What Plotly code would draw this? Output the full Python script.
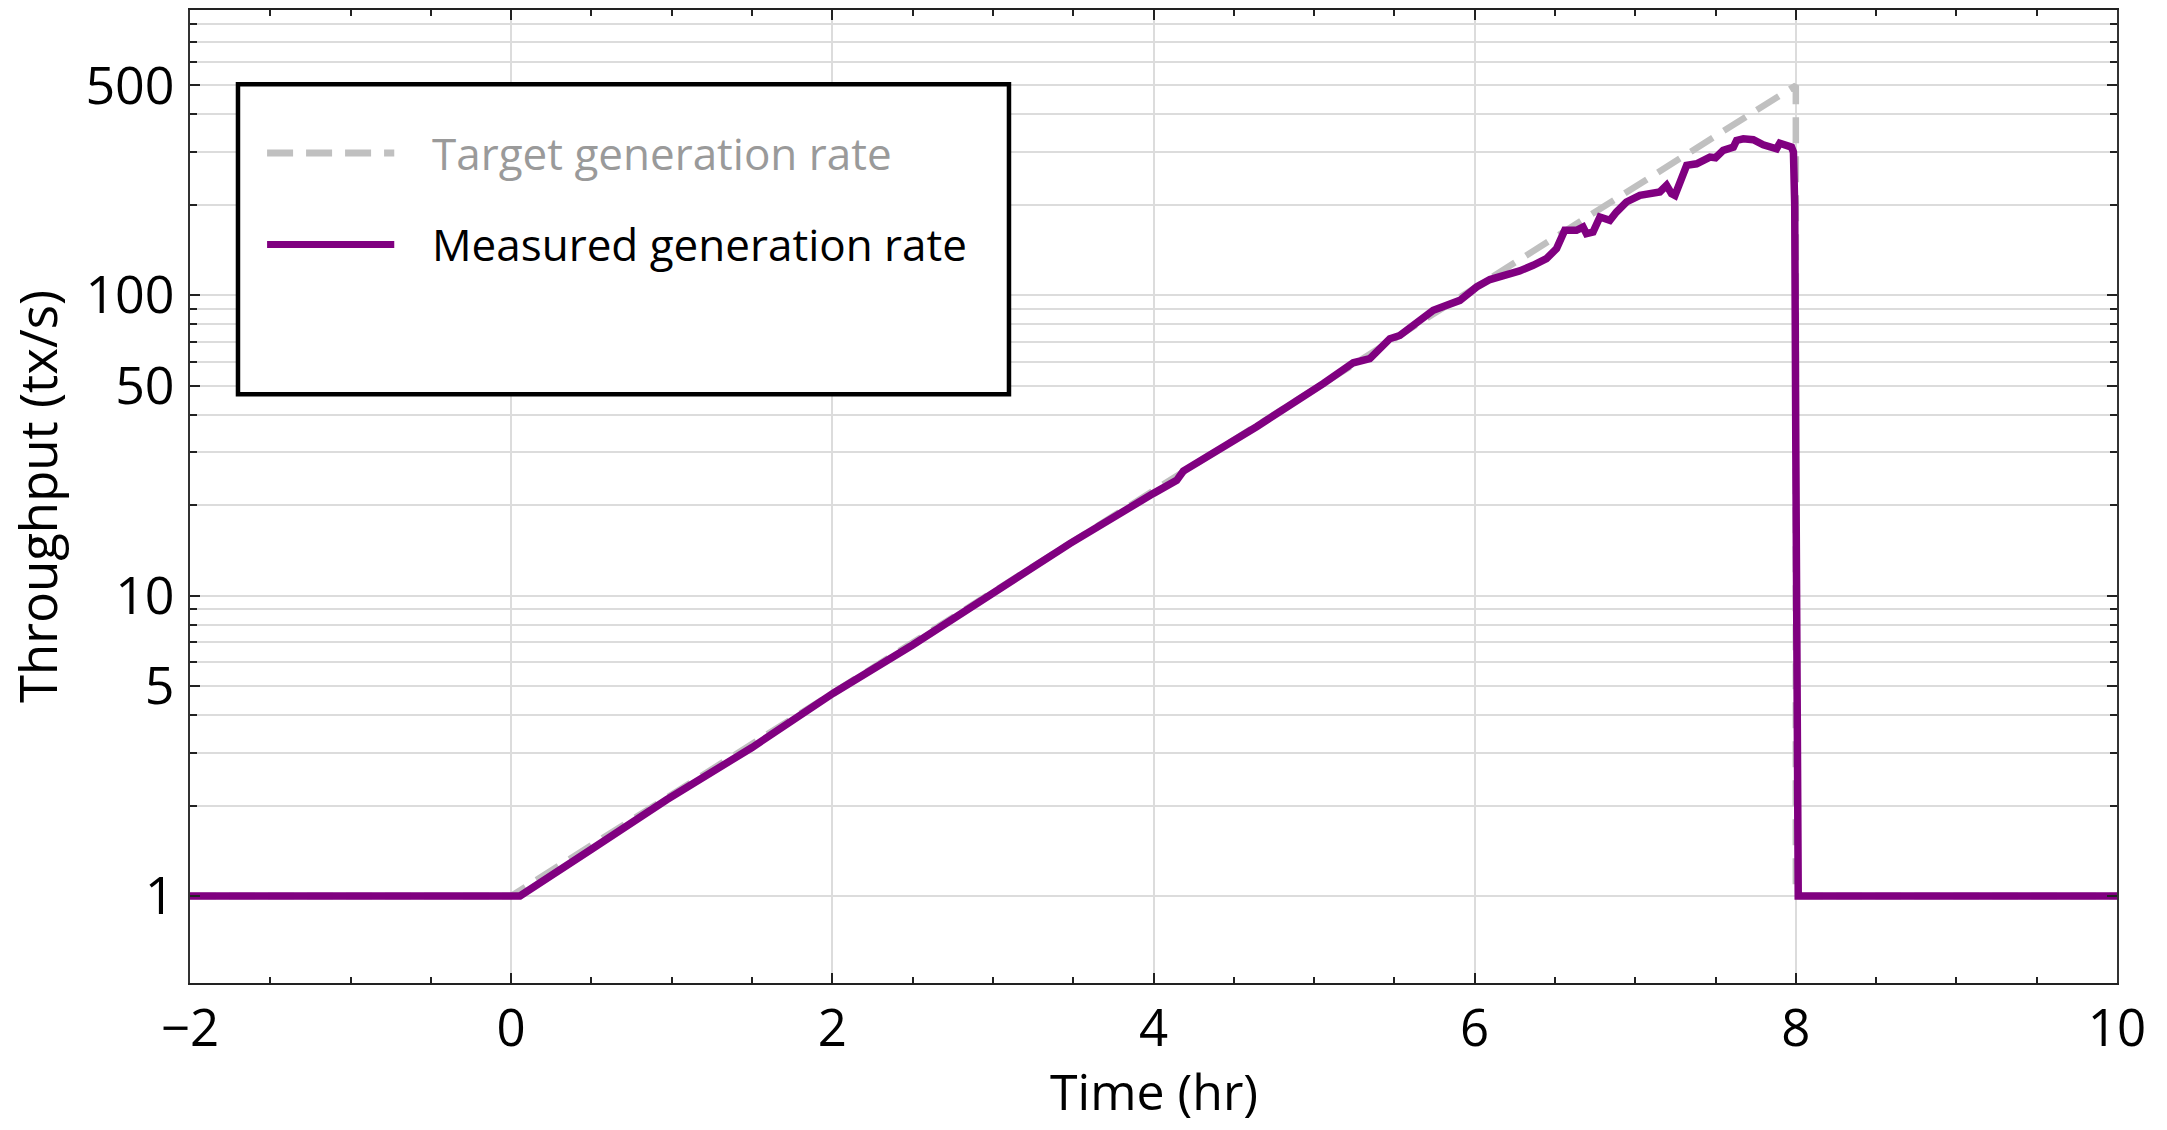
import plotly.graph_objects as go

# ---- data ----
target_time = [-2, 0, 8, 8, 10]
target_rate = [1, 1, 500, 1, 1]

measured_time = [-2, 0.055, 0.5, 0.968, 1.5, 2.006, 2.5, 2.981, 3.479, 4.0, 4.144, 4.186,
                 4.434, 4.642, 5.057, 5.244, 5.347, 5.472, 5.534, 5.617, 5.742, 5.908,
                 6.012, 6.095, 6.198, 6.28, 6.364, 6.447, 6.51, 6.561, 6.634, 6.675,
                 6.696, 6.737, 6.78, 6.842, 6.883, 6.945, 7.029, 7.153, 7.195, 7.226,
                 7.247, 7.32, 7.382, 7.424, 7.465, 7.5, 7.548, 7.611, 7.631, 7.673,
                 7.735, 7.797, 7.859, 7.88, 7.9, 7.942, 7.973, 7.985, 7.993, 8.0,
                 8.01, 8.015, 10]
measured_rate = [1, 1, 1.43, 2.09, 3.12, 4.73, 6.85, 10.04, 14.9, 21.9, 24.2, 26.0,
                 31.3, 36.5, 50.8, 59.6, 61.5, 71.7, 73.5, 79.5, 89.1, 96.2,
                 106.6, 112.8, 116.6, 120.5, 125.9, 132.5, 143, 164.6, 164.6, 168.7,
                 160.4, 162.3, 182.2, 177.7, 189.4, 204.5, 215.3, 220.8, 232.5, 217.9,
                 215, 270.8, 274, 281.3, 288.6, 287, 303.7, 311.5, 328, 332,
                 329.6, 317, 313, 307.6, 321, 313, 311.5, 300, 200, 30,
                 3, 1, 1]

x_tick_vals = [-2, 0, 2, 4, 6, 8, 10]
x_tick_text = ["\u22122", "0", "2", "4", "6", "8", "10"]
y_tick_vals = [1, 5, 10, 50, 100, 500]
y_tick_text = ["1", "5", "10", "50", "100", "500"]
y_minor_vals = [2, 3, 4, 6, 7, 8, 9, 20, 30, 40, 60, 70, 80, 90,
                200, 300, 400, 600, 700, 800]

series_names = ["Target generation rate", "Measured generation rate"]
x_title = "Time (hr)"
y_title = "Throughput (tx/s)"

FONT = "Open Sans"
PURPLE = "#800080"
GRAY = "#c0c0c0"
GRID = "#dcdcdc"

fig = go.Figure()
fig.add_trace(go.Scatter(x=target_time, y=target_rate, mode="lines",
                         name=series_names[0],
                         line=dict(color=GRAY, width=6.5, dash="26px,13px")))
fig.add_trace(go.Scatter(x=measured_time, y=measured_rate, mode="lines",
                         name=series_names[1],
                         line=dict(color=PURPLE, width=7.5)))

fig.update_layout(
    width=2167, height=1130,
    margin=dict(l=190, r=50, t=10, b=147),
    paper_bgcolor="white", plot_bgcolor="white",
    showlegend=False,
    font=dict(family=FONT, size=50, color="black"),
)

fig.update_xaxes(
    range=[-2, 10], automargin=False,
    tickmode="array", tickvals=x_tick_vals, ticktext=x_tick_text,
    ticks="inside", ticklen=10, tickwidth=2, tickcolor="#222",
    showline=True, linecolor="#222", linewidth=2, mirror="allticks",
    showgrid=True, gridcolor=GRID, gridwidth=1.5,
    zeroline=False,
    tickfont=dict(family=FONT, size=51, color="black"),
    ticklabelstandoff=0,
    minor=dict(dtick=0.5, ticks="inside", ticklen=6, tickwidth=1.5,
               tickcolor="#222", showgrid=False),
)

fig.update_yaxes(
    type="log", range=[-0.29, 2.95], automargin=False,
    tickmode="array", tickvals=y_tick_vals, ticktext=y_tick_text,
    ticks="inside", ticklen=10, tickwidth=2, tickcolor="#222",
    showline=True, linecolor="#333", linewidth=2, mirror="allticks",
    showgrid=True, gridcolor=GRID, gridwidth=1.5,
    zeroline=False,
    tickfont=dict(family=FONT, size=52, color="black"),
    ticklabelstandoff=3,
    minor=dict(tickmode="array", tickvals=y_minor_vals, ticks="inside",
               ticklen=7, tickwidth=1.5, tickcolor="#222",
               showgrid=True, gridcolor=GRID, gridwidth=1.5),
    title=dict(text=y_title, font=dict(family=FONT, size=51, color="black"),
               standoff=12),
)

# x-axis title placed just below the tick labels, kept inside the page
fig.add_annotation(xref="paper", yref="paper", x=0.5, y=-0.1485,
                   xanchor="center", yanchor="bottom", showarrow=False,
                   text=x_title, font=dict(family=FONT, size=50, color="black"))

# ---- legend drawn as a framed box ----
fig.add_shape(type="rect", xref="paper", yref="paper",
              x0=0.0249, x1=0.425, y0=0.605, y1=0.9236,
              line=dict(color="black", width=4.5), fillcolor="white", layer="above")
legend_rows = [0.853, 0.759]
legend_styles = [dict(color=GRAY, width=7, dash="26px,13px"),
                 dict(color=PURPLE, width=7)]
legend_text_colors = ["#9a9a9a", "black"]
for yy, st, name, tc in zip(legend_rows, legend_styles, series_names, legend_text_colors):
    fig.add_shape(type="line", xref="paper", yref="paper",
                  x0=0.040, x1=0.106, y0=yy, y1=yy, line=st, layer="above")
    fig.add_annotation(xref="paper", yref="paper", x=0.1245, y=yy,
                       xanchor="left", yanchor="middle", showarrow=False,
                       text=name, font=dict(family=FONT, size=44, color=tc))

fig.write_html("out.html")
